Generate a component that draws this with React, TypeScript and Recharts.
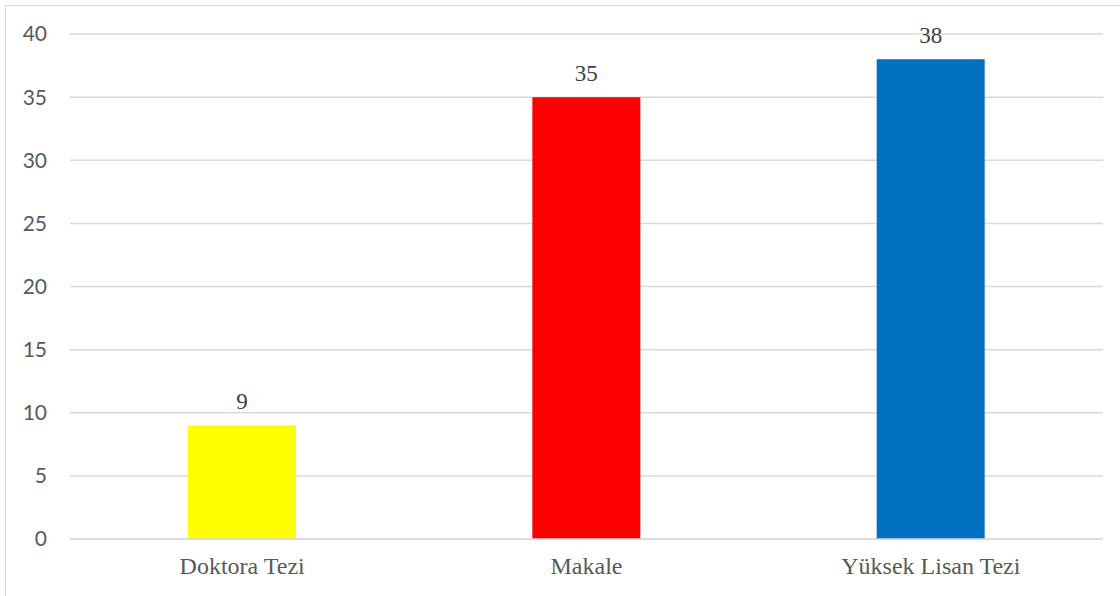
import { BarChart, Bar, XAxis, YAxis, CartesianGrid, Cell, LabelList } from 'recharts'

const categories = ['Doktora Tezi', 'Makale', 'Yüksek Lisan Tezi']
const counts = [9, 35, 38]
const barColors = ['#FFFF00', '#FF0000', '#0070C0']
const yTicks = [0, 5, 10, 15, 20, 25, 30, 35, 40]

const data = categories.map((name, i) => ({ name, count: counts[i] }))

const serif = '"Liberation Serif", "Times New Roman", serif'

function ValueLabel(props: any) {
  const { x, y, width, value } = props
  return (
    <text
      x={Number(x) + Number(width) / 2}
      y={Number(y) - 16}
      textAnchor="middle"
      fill="#404040"
      fontSize={23}
      fontFamily={serif}
    >
      {value}
    </text>
  )
}

export default function App() {
  return (
    <div style={{ position: 'absolute', left: 0, top: 0, width: 1120, height: 596, overflow: 'hidden', background: '#fff' }}>
      <div
        style={{
          position: 'absolute', left: 5, top: 5, width: 1200, height: 700,
          border: '1.5px solid #d9d9d9',
        }}
      />
      <div style={{ position: 'absolute', left: 0, top: 0 }}>
        <BarChart width={1120} height={596} data={data} margin={{ top: 34, right: 17, bottom: 0, left: 0 }} barSize={108}>
          <CartesianGrid vertical={false} stroke="#d9d9d9" strokeWidth={1.5} />
          <XAxis
            dataKey="name"
            height={57}
            axisLine={{ stroke: '#d9d9d9', strokeWidth: 1.5 }}
            tickLine={false}
            tickSize={0}
            tickMargin={18}
            tick={{ fill: '#595959', fontSize: 24, fontFamily: serif }}
          />
          <YAxis
            width={70}
            domain={[0, 40]}
            ticks={yTicks}
            axisLine={false}
            tickLine={false}
            tickSize={0}
            tickMargin={23}
            tick={{ fill: '#595959', fontSize: 21, fontFamily: 'Lato, "Noto Sans", sans-serif' }}
          />
          <Bar dataKey="count" isAnimationActive={false}>
            {data.map((d, i) => (
              <Cell key={d.name} fill={barColors[i]} />
            ))}
            <LabelList dataKey="count" content={ValueLabel} />
          </Bar>
        </BarChart>
      </div>
    </div>
  )
}
